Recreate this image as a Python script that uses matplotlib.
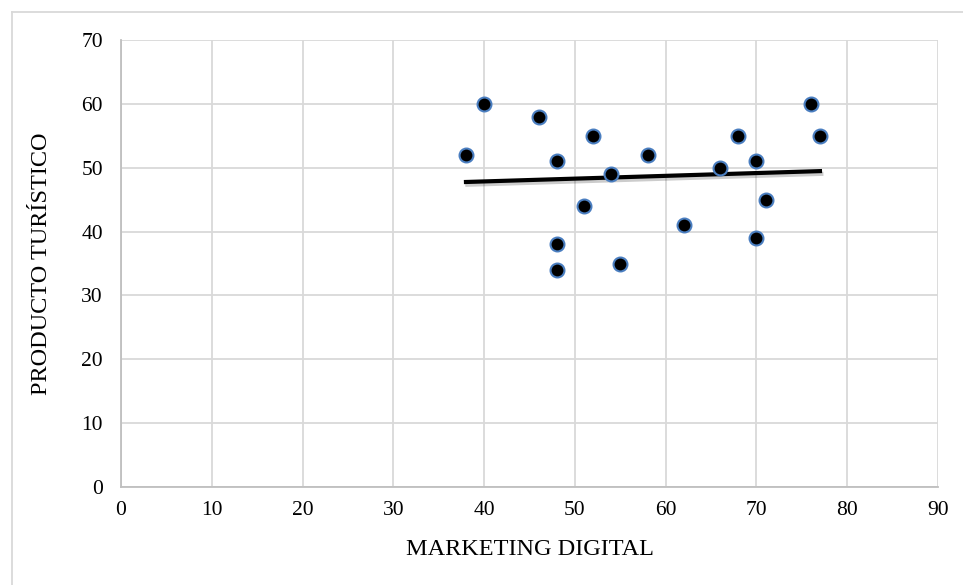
import numpy as np
import matplotlib
matplotlib.use('Agg')
import matplotlib.pyplot as plt
import matplotlib.patheffects as pe
from matplotlib.lines import Line2D

plt.rcParams['font.family'] = ['Liberation Serif', 'DejaVu Serif']

# datos
marketing = [38, 40, 46, 48, 48, 48, 51, 52, 54, 55, 58, 62, 66, 68, 70, 70, 71, 76, 77]
producto = [52, 60, 58, 51, 38, 34, 44, 55, 49, 35, 52, 41, 50, 55, 51, 39, 45, 60, 55]
x_ticks = [0, 10, 20, 30, 40, 50, 60, 70, 80, 90]
y_ticks = [0, 10, 20, 30, 40, 50, 60, 70]

fig = plt.figure(figsize=(9.63, 5.85), dpi=100)
ax = fig.add_axes([0.1257, 0.1675, 0.8483, 0.7641])

grid_color = '#D9D9D9'
ax.set_xlim(0, 90)
ax.set_ylim(0, 70)
ax.set_xticks(x_ticks)
ax.set_yticks(y_ticks)
ax.grid(True, color=grid_color, linewidth=1.3)
ax.set_axisbelow(True)
for side in ['top', 'right']:
    ax.spines[side].set_visible(False)
for side in ['left', 'bottom']:
    ax.spines[side].set_color('#BFBFBF')
    ax.spines[side].set_linewidth(1.3)
ax.tick_params(length=0, labelsize=15.5)
ax.tick_params(axis='x', pad=10)
ax.tick_params(axis='y', pad=13)

# línea de tendencia (mínimos cuadrados)
m, b = np.polyfit(marketing, producto, 1)
xs = np.array([min(marketing), max(marketing)])
ax.plot(xs, m * xs + b, color='black', linewidth=3, zorder=3,
        path_effects=[pe.SimpleLineShadow(offset=(1, -2), alpha=0.2), pe.Normal()])

ax.scatter(marketing, producto, s=100, c='black', edgecolors='#4A7EC0',
           linewidths=1.5, zorder=4)

ax.set_xlabel('MARKETING DIGITAL', fontsize=17.5, labelpad=14)
ax.set_ylabel('PRODUCTO TURÍSTICO', fontsize=17.5, labelpad=21)

# marco exterior del gráfico
fig.add_artist(Line2D([12 / 963, 12 / 963], [0, 1 - 12 / 585], transform=fig.transFigure,
                      color=grid_color, linewidth=1.3))
fig.add_artist(Line2D([12 / 963, 1], [1 - 12 / 585, 1 - 12 / 585], transform=fig.transFigure,
                      color=grid_color, linewidth=1.3))

plt.savefig('out.png', dpi=100)
